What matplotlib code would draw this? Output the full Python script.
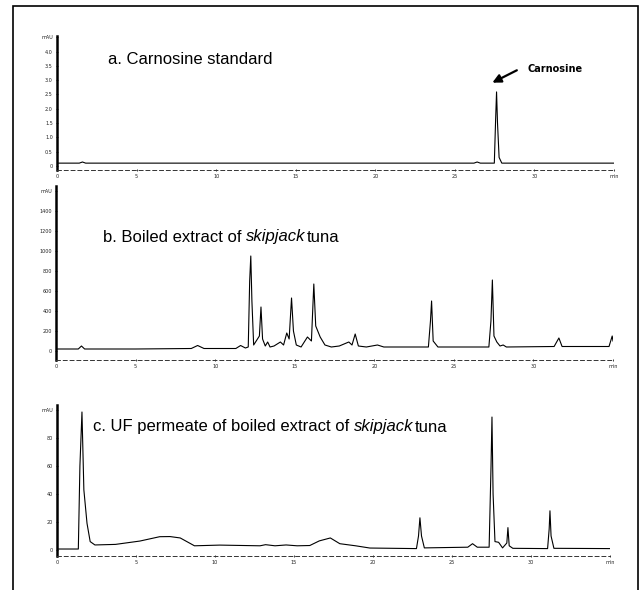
import matplotlib
matplotlib.use("Agg")
import matplotlib.pyplot as plt
from matplotlib.patches import Rectangle

# ---------------- data ----------------
x_ticks = [0, 5, 10, 15, 20, 25, 30, 35]
x_tick_labels = ["0", "5", "10", "15", "20", "25", "30", "min"]

# Panel a: carnosine standard
a_time = [0, 1.4, 1.6, 1.8, 26.2, 26.4, 26.6, 27.48, 27.56, 27.62, 27.68, 27.78, 27.95, 35]
a_signal = [0.1, 0.1, 0.14, 0.1, 0.1, 0.14, 0.1, 0.1, 1.6, 2.59, 1.5, 0.3, 0.1, 0.1]
a_yticks = [0, 0.5, 1.0, 1.5, 2.0, 2.5, 3.0, 3.5, 4.0, 4.5]
a_ylabels = ["0", "0.5", "1.0", "1.5", "2.0", "2.5", "3.0", "3.5", "4.0", "mAU"]

# Panel b: boiled extract of skipjack tuna
b_time = [0, 1.4, 1.6, 1.8, 5, 8.5, 8.9, 9.3, 11.3, 11.6, 11.9, 12.08, 12.17, 12.24,
          12.31, 12.42, 12.78, 12.88, 12.98, 13.15, 13.3, 13.45, 13.7, 14.1, 14.3, 14.5,
          14.65, 14.8, 14.92, 15.1, 15.4, 15.8, 16.05, 16.2, 16.32, 16.6, 16.9, 17.3,
          17.8, 18.4, 18.6, 18.8, 19.0, 19.5, 20.2, 20.6, 23.4, 23.53, 23.6, 23.7,
          24.0, 27.2, 27.33, 27.42, 27.52, 27.7, 27.9, 28.1, 28.3, 31.3, 31.6, 31.8,
          34.75, 34.95, 35]
b_signal = [20, 20, 50, 20, 20, 25, 55, 25, 25, 55, 30, 40, 700, 950,
            500, 60, 150, 440, 120, 50, 90, 40, 50, 90, 60, 180,
            120, 530, 200, 60, 40, 140, 100, 670, 250, 140, 60, 40,
            50, 90, 60, 170, 50, 40, 60, 40, 40, 300, 500, 100,
            40, 40, 300, 710, 150, 90, 50, 60, 40, 45, 130, 45,
            45, 150, 100]
b_yticks = [0, 200, 400, 600, 800, 1000, 1200, 1400, 1600]
b_ylabels = ["0", "200", "400", "600", "800", "1000", "1200", "1400", "mAU"]

# Panel c: UF permeate of boiled extract
c_time = [0, 1.35, 1.45, 1.58, 1.7, 1.9, 2.1, 2.4, 3.7, 5.25, 6.5, 7.15, 7.8, 8.7,
          10.3, 12.85, 13.2, 13.8, 14.5, 15.2, 16.0, 16.6, 17.3, 17.9, 18.9, 19.8,
          22.75, 22.88, 22.97, 23.07, 23.25, 26.0, 26.3, 26.6, 27.35, 27.47, 27.53,
          27.6, 27.72, 27.95, 28.2, 28.47, 28.54, 28.62, 28.85, 31.05, 31.15, 31.2,
          31.27, 31.45, 35]
c_signal = [0.7, 0.7, 60, 98.6, 43, 19, 6, 3.6, 4, 6.4, 9.5, 9.6, 8.6, 3,
            3.5, 3, 3.8, 3.0, 3.6, 3, 3.2, 6.5, 8.6, 4.5, 3, 1.4,
            1, 10, 23, 10, 1.5, 2, 4.5, 2, 2, 60, 95,
            40, 6, 5.5, 1.5, 5, 16, 3, 1.2, 1.0, 15, 28,
            10, 1.2, 1]
c_yticks = [0, 20, 40, 60, 80, 100]
c_ylabels = ["0", "20", "40", "60", "80", "mAU"]

titles = ["a. Carnosine standard",
          "b. Boiled extract of ",
          "c. UF permeate of boiled extract of "]

# ---------------- figure ----------------
W, H = 643, 590
fig = plt.figure(figsize=(W / 100, H / 100), dpi=100)
fig.patch.set_facecolor("white")


def px_axes(left, top, right, bottom):
    return fig.add_axes([left / W, (H - bottom) / H, (right - left) / W, (bottom - top) / H])


def style(ax, yticks, ylabels, ylim):
    ax.set_xlim(0, 35)
    ax.set_ylim(*ylim)
    for s in ("top", "right"):
        ax.spines[s].set_visible(False)
    ax.spines["left"].set_linewidth(1.8)
    ax.spines["bottom"].set_linewidth(0.7)
    ax.spines["bottom"].set_linestyle((0, (4, 3)))
    ax.spines["bottom"].set_color("#333333")
    ax.set_xticks(x_ticks)
    ax.set_xticklabels(x_tick_labels)
    ax.set_yticks(yticks)
    ax.set_yticklabels(ylabels)
    ax.tick_params(axis="both", labelsize=3.5, length=2, width=0.6, pad=2,
                   colors="#222222", direction="inout")
    ax.patch.set_alpha(0)


line_kw = dict(color="black", lw=0.8)

ax_a = px_axes(57, 36, 614, 170)
ax_a.plot(a_time, a_signal, **line_kw)
style(ax_a, a_yticks, a_ylabels, (-0.14, 4.545))
ax_a.text(108 / W, (H - 60) / H, titles[0], transform=fig.transFigure,
          fontsize=12, family="Liberation Sans", va="center", ha="left")
# carnosine label and arrow
ax_a.annotate("", xy=(27.2, 2.87), xytext=(29.05, 3.39),
              arrowprops=dict(arrowstyle="-|>,head_length=0.5,head_width=0.25",
                              lw=1.6, color="black"))
ax_a.text(29.55, 3.39, "Carnosine", fontsize=7, fontweight="bold",
          family="DejaVu Sans", va="center", ha="left")

ax_b = px_axes(56, 186, 613, 360)
ax_b.plot(b_time, b_signal, **line_kw)
style(ax_b, b_yticks, b_ylabels, (-90, 1650))
tb = fig.text(103 / W, (H - 237) / H, titles[1], fontsize=12,
              family="Liberation Sans", va="center", ha="left")

ax_c = px_axes(57, 405, 610, 556)
ax_c.plot(c_time, c_signal, **line_kw)
style(ax_c, c_yticks, c_ylabels, (-4.29, 103.6))
tc = fig.text(93 / W, (H - 427) / H, titles[2], fontsize=12,
              family="Liberation Sans", va="center", ha="left")

# italic "skipjack" + "tuna" following the upright text
fig.canvas.draw()
r = fig.canvas.get_renderer()
for t, y in ((tb, 237), (tc, 427)):
    bb = t.get_window_extent(r)
    t2 = fig.text(bb.x1 / W, (H - y) / H, "skipjack", fontsize=12, style="italic",
                  family="Liberation Sans", va="center", ha="left")
    bb2 = t2.get_window_extent(r)
    fig.text((bb2.x1 + 1) / W, (H - y) / H, "tuna", fontsize=12,
             family="Liberation Sans", va="center", ha="left")

# outer frame
fig.add_artist(Rectangle((13 / W, -0.02), (638 - 13) / W, (H - 6) / H + 0.02,
                         transform=fig.transFigure, fill=False, lw=1.2,
                         edgecolor="black"))

fig.savefig("out.png", dpi=100, facecolor="white")
